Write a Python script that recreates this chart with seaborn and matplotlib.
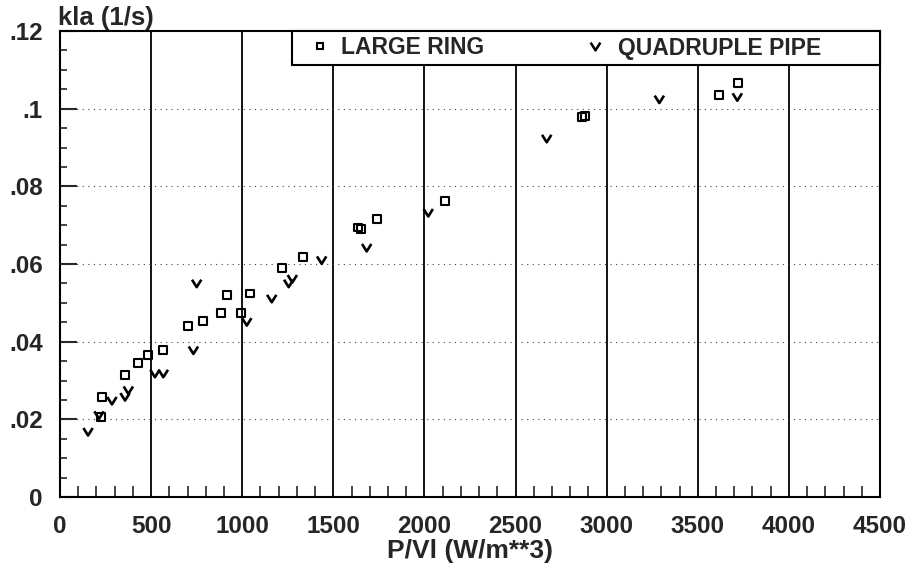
import numpy as np
import pandas as pd
import matplotlib
matplotlib.use("Agg")
import matplotlib.pyplot as plt
from matplotlib.path import Path
from matplotlib.lines import Line2D
from matplotlib.patches import Rectangle
from matplotlib.ticker import MultipleLocator, FixedLocator
import seaborn as sns

# ---- data ----
ring_x = [225, 229, 357, 430, 485, 565, 704, 786, 882, 915, 995, 1043, 1217, 1335,
          1636, 1650, 1738, 2113, 2865, 2880, 3618, 3722]
ring_y = [0.0206, 0.0257, 0.0314, 0.0344, 0.0366, 0.0378, 0.0440, 0.0454, 0.0474,
          0.0520, 0.0474, 0.0524, 0.0589, 0.0617, 0.0694, 0.0690, 0.0715, 0.0763,
          0.0979, 0.0981, 0.1035, 0.1067]

pipe_x = [154, 214, 285, 357, 375, 521, 567, 732, 750, 1025, 1162, 1255, 1275, 1436,
          1683, 2021, 2671, 3289, 3717]
pipe_y = [0.0168, 0.0211, 0.0248, 0.0258, 0.0275, 0.0318, 0.0318, 0.0378, 0.0550,
          0.0451, 0.0511, 0.0550, 0.0562, 0.0610, 0.0642, 0.0732, 0.0923, 0.1024,
          0.1030]

x_ticks = [0, 500, 1000, 1500, 2000, 2500, 3000, 3500, 4000, 4500]
x_ticklabels = ["0", "500", "1000", "1500", "2000", "2500", "3000", "3500", "4000", "4500"]
y_ticks = [0, 0.02, 0.04, 0.06, 0.08, 0.10, 0.12]
y_ticklabels = ["0", ".02", ".04", ".06", ".08", ".1", ".12"]
series_names = ["LARGE RING", "QUADRUPLE PIPE"]
y_title = "kla (1/s)"
x_title = "P/Vl (W/m**3)"

ring = pd.DataFrame({"x": ring_x, "y": ring_y})
pipe = pd.DataFrame({"x": pipe_x, "y": pipe_y})

sns.set_style("white")
plt.rcParams["font.family"] = ["Liberation Sans", "DejaVu Sans"]
plt.rcParams["font.weight"] = "bold"

fig = plt.figure(figsize=(9.14, 5.71), dpi=100)
ax = fig.add_axes([60 / 914, 1 - 497 / 571, 820 / 914, (497 - 31) / 571])

vpath = Path([(-0.5, 0.4), (0.0, -0.4), (0.5, 0.4)],
             [Path.MOVETO, Path.LINETO, Path.LINETO])

sns.scatterplot(data=ring, x="x", y="y", ax=ax, marker="s", s=32,
                facecolors="none", edgecolor="black", linewidth=1.5, zorder=4)
sns.scatterplot(data=pipe, x="x", y="y", ax=ax, marker=vpath, s=45,
                facecolors="none", edgecolor="black", linewidth=1.9, zorder=4)

ax.set_xlim(0, 4500)
ax.set_ylim(0, 0.12)
ax.set_xlabel("")
ax.set_ylabel("")

# grid
for xv in x_ticks[1:-1]:
    ax.axvline(xv, color="black", lw=1.3, zorder=1)
for yv in y_ticks[1:-1]:
    ax.axhline(yv, color="#444444", lw=0.8, ls=(0, (1, 4)), zorder=1)

for s in ax.spines.values():
    s.set_linewidth(1.5)
    s.set_color("black")
    s.set_visible(True)

ax.xaxis.set_major_locator(FixedLocator(x_ticks))
ax.set_xticklabels(x_ticklabels)
ax.xaxis.set_minor_locator(MultipleLocator(100))
ax.yaxis.set_major_locator(FixedLocator(y_ticks))
ax.set_yticklabels(y_ticklabels)
ax.yaxis.set_minor_locator(MultipleLocator(0.005))

ax.tick_params(axis="x", which="major", direction="in", length=0, pad=13,
               labelsize=17.5, bottom=True)
ax.tick_params(axis="x", which="minor", direction="in", length=8, width=1.2,
               bottom=True)
ax.tick_params(axis="y", which="major", direction="in", length=12, width=1.5,
               pad=12.5, labelsize=17.5, left=True)
ax.tick_params(axis="y", which="minor", direction="in", length=5, width=1.2,
               left=True)
for lab in ax.get_xticklabels() + ax.get_yticklabels():
    lab.set_fontweight("bold")

# legend box
lx0 = (292 - 60) / 820
ax.add_patch(Rectangle((lx0, 1 - (65 - 31) / 466), 1 - lx0, (65 - 31) / 466,
                       transform=ax.transAxes, facecolor="white",
                       edgecolor="black", lw=1.5, zorder=5, clip_on=False))
h1 = Line2D([], [], ls="none", marker="s", ms=5, mfc="none", mec="black", mew=1.5)
h2 = Line2D([], [], ls="none", marker=vpath, ms=7, mfc="none", mec="black", mew=1.8)
ly = 1 - (48 - 31) / 466
leg1 = ax.legend(handles=[h1], labels=[series_names[0]], loc="center left",
                 bbox_to_anchor=((311 - 60) / 820, ly), frameon=False,
                 borderpad=0, borderaxespad=0, handlelength=0.8,
                 handletextpad=0.5, prop={"size": 16.5, "weight": "bold"})
leg1.set_zorder(6)
ax.add_artist(leg1)
leg2 = ax.legend(handles=[h2], labels=[series_names[1]], loc="center left",
                 bbox_to_anchor=((586 - 60) / 820, ly), frameon=False,
                 borderpad=0, borderaxespad=0, handlelength=0.8,
                 handletextpad=0.6, prop={"size": 16.5, "weight": "bold"})
leg2.set_zorder(6)

fig.text(58 / 914, 1 - 25 / 571, y_title, ha="left", va="baseline",
         fontsize=18.5, fontweight="bold")
fig.text(470 / 914, 1 - 558 / 571, x_title, ha="center", va="baseline",
         fontsize=19, fontweight="bold")

fig.savefig("out.png", dpi=100)
